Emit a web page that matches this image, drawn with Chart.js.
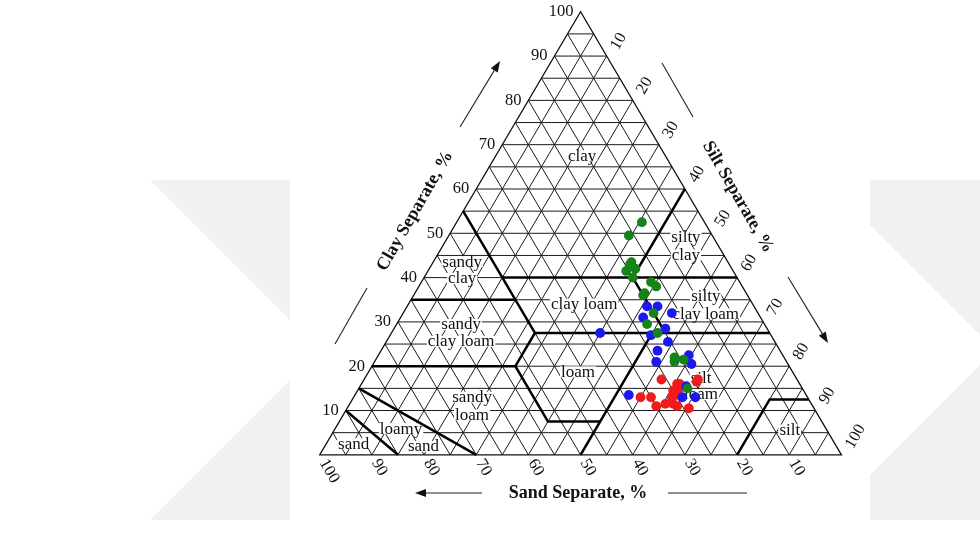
<!DOCTYPE html>
<html>
<head>
<meta charset="utf-8">
<script src="https://cdn.jsdelivr.net/npm/chart.js@4.4.1/dist/chart.umd.min.js"></script>
<style>
  html, body { margin: 0; padding: 0; background: #ffffff; }
  canvas { display: block; }
</style>
</head>
<body>
<canvas id="soil" width="980" height="556"></canvas>
<script>
// Soil samples, % sand and % clay (silt is the remainder)
const greenSand = [12, 16, 19, 20.5, 20, 18.5, 18.5, 17, 16.5, 19.5, 20, 20, 22.5, 21.5, 21.5, 21, 19.5, 22];
const greenClay = [52.5, 49.5, 43, 41.5, 40, 42, 43.5, 39, 38, 36.5, 36, 32, 29.5, 27.5, 21, 22, 21.5, 15];
const blueSand  = [20.5, 18.5, 16.5, 22.5, 32.5, 19.5, 23, 20.5, 23.5, 25, 18, 18.5, 22, 34, 24, 21.5];
const blueClay  = [33.5, 33.5, 32, 31, 27.5, 28.5, 27, 25.5, 23.5, 21, 22.5, 20.5, 15.5, 13.5, 13, 13];
const redSand   = [26, 23.5, 19.5, 19, 25, 23.5, 32, 30, 26, 26.5, 30, 28, 26, 24, 25, 23];
const redClay   = [17, 16, 16.5, 17, 14.5, 15, 13, 13, 13, 11.5, 11, 11.5, 11, 10.5, 13.5, 16];

// Axis tick values (percent)
const tickValues = [10, 20, 30, 40, 50, 60, 70, 80, 90, 100];

// Texture class names, one entry per printed line
const classText = ['clay', 'sandy', 'clay', 'silty', 'clay', 'clay loam', 'silty', 'clay loam',
                   'sandy', 'clay loam', 'loam', 'silt', 'loam', 'sandy', 'loam', 'loamy', 'sand', 'sand', 'silt'];

// Where each class line sits, in plot units (x: silt + clay/2, y: clay)
const classPos = [[50.3, 67.4], [27.3, 43.5], [27.3, 39.7], [70.2, 49.0], [70.2, 45.0], [50.7, 33.9],
                  [74.0, 35.7], [74.0, 31.7], [27.1, 29.3], [27.1, 25.5], [49.5, 18.6], [73.1, 17.3],
                  [73.1, 13.5], [29.2, 12.9], [29.2, 8.9], [15.6, 5.8], [19.9, 1.8], [6.5, 2.4], [90.1, 5.5]];

// USDA texture class boundaries as (sand, silt, clay) polylines
const boundaries = [
  [[45, 0, 55], [45, 27.5, 27.5], [52.5, 27.5, 20], [52.5, 40, 7.5], [42.5, 50, 7.5]],
  [[65, 0, 35], [45, 20, 35]],
  [[45, 15, 40], [0, 60, 40]],
  [[0, 40, 60], [20, 40, 40], [20, 52.5, 27.5]],
  [[45, 27.5, 27.5], [0, 72.5, 27.5]],
  [[80, 0, 20], [52.5, 27.5, 20]],
  [[22.5, 50, 27.5], [50, 50, 0]],
  [[20, 80, 0], [7.5, 80, 12.5], [0, 87.5, 12.5]],
  [[85, 0, 15], [70, 30, 0]],
  [[90, 0, 10], [85, 15, 0]]
];

function toPoints(sand, clay) {
  return sand.map((s, i) => {
    const c = clay[i];
    const silt = 100 - s - c;
    return { x: silt + c / 2, y: c };
  });
}

const SERIF = '"Liberation Serif", "Times New Roman", serif';

const ternaryPlugin = {
  id: 'ternary',
  beforeDatasetsDraw(chart) {
    const ctx = chart.ctx;
    const xs = chart.scales.x, ys = chart.scales.y;
    const P = (sand, silt, clay) => [xs.getPixelForValue(silt + clay / 2), ys.getPixelForValue(clay)];

    ctx.save();
    // page background with pale chevrons, chart panel on top
    ctx.fillStyle = '#ffffff';
    ctx.fillRect(0, 0, chart.width, chart.height);
    ctx.fillStyle = '#f1f1f1';
    const chev = (pts) => { ctx.beginPath(); pts.forEach((p, i) => i ? ctx.lineTo(p[0], p[1]) : ctx.moveTo(p[0], p[1])); ctx.closePath(); ctx.fill(); };
    chev([[150, 180], [305, 180], [475, 350], [305, 520], [150, 520], [320, 350]]);
    chev([[825, 180], [980, 180], [1150, 350], [980, 520], [825, 520], [995, 350]]);
    ctx.fillStyle = '#ffffff';
    ctx.fillRect(290, 0, 580, 520);

    // 5 % lattice
    ctx.strokeStyle = '#1a1a1a';
    ctx.lineWidth = 1;
    ctx.beginPath();
    for (let k = 5; k < 100; k += 5) {
      let a = P(100 - k, 0, k), b = P(0, 100 - k, k);
      ctx.moveTo(a[0], a[1]); ctx.lineTo(b[0], b[1]);
      a = P(k, 100 - k, 0); b = P(k, 0, 100 - k);
      ctx.moveTo(a[0], a[1]); ctx.lineTo(b[0], b[1]);
      a = P(100 - k, k, 0); b = P(0, k, 100 - k);
      ctx.moveTo(a[0], a[1]); ctx.lineTo(b[0], b[1]);
    }
    ctx.stroke();

    // triangle outline
    const A = P(100, 0, 0), B = P(0, 100, 0), C = P(0, 0, 100);
    ctx.lineWidth = 1.3;
    ctx.strokeStyle = '#111';
    ctx.beginPath();
    ctx.moveTo(A[0], A[1]); ctx.lineTo(B[0], B[1]); ctx.lineTo(C[0], C[1]); ctx.closePath();
    ctx.stroke();

    // class label backgrounds
    ctx.font = '17px ' + SERIF;
    classText.forEach((t, i) => {
      const x = xs.getPixelForValue(classPos[i][0]);
      const y = ys.getPixelForValue(classPos[i][1]);
      const w = ctx.measureText(t).width;
      ctx.fillStyle = '#ffffff';
      ctx.fillRect(x - w / 2 - 1, y - 6, w + 2, 11);
    });

    // class boundaries
    ctx.strokeStyle = '#000';
    ctx.lineWidth = 2.5;
    ctx.lineJoin = 'miter';
    boundaries.forEach(line => {
      ctx.beginPath();
      line.forEach((v, i) => {
        const p = P(v[0], v[1], v[2]);
        i ? ctx.lineTo(p[0], p[1]) : ctx.moveTo(p[0], p[1]);
      });
      ctx.stroke();
    });

    // class labels
    ctx.fillStyle = '#111';
    ctx.textAlign = 'center';
    ctx.textBaseline = 'middle';
    classText.forEach((t, i) => {
      ctx.fillText(t, xs.getPixelForValue(classPos[i][0]), ys.getPixelForValue(classPos[i][1]));
    });

    // tick labels
    ctx.font = '16.5px ' + SERIF;
    const rot = (t, x, y, ang, dx, dy) => {
      ctx.save();
      ctx.translate(x, y);
      ctx.rotate(ang);
      ctx.textAlign = 'left';
      ctx.textBaseline = 'middle';
      ctx.fillText(t, dx, dy);
      ctx.restore();
    };
    tickValues.forEach(v => {
      // clay, left edge
      const c = P(100 - v, 0, v);
      ctx.textAlign = 'right';
      ctx.textBaseline = 'middle';
      ctx.fillText(String(v), c[0] - 7, c[1]);
      // sand, bottom edge
      const s = P(v, 100 - v, 0);
      rot(String(v), s[0], s[1], Math.PI / 3, 6.5, 0);
      // silt, right edge
      const si = P(0, v, 100 - v);
      rot(String(v), si[0], si[1], -Math.PI / 3, 10.5, 3);
    });

    // axis titles
    ctx.font = 'bold 18px ' + SERIF;
    ctx.textAlign = 'center';
    ctx.textBaseline = 'middle';
    ctx.fillText('Sand Separate, %', 578, 493);
    ctx.save(); ctx.translate(415, 211); ctx.rotate(-Math.PI / 3); ctx.fillText('Clay Separate, %', 0, 0); ctx.restore();
    ctx.save(); ctx.translate(738, 197); ctx.rotate(Math.PI / 3); ctx.fillText('Silt Separate, %', 0, 0); ctx.restore();

    // direction arrows and rules
    ctx.strokeStyle = '#222';
    ctx.fillStyle = '#111';
    ctx.lineWidth = 1.1;
    const seg = (x1, y1, x2, y2) => { ctx.beginPath(); ctx.moveTo(x1, y1); ctx.lineTo(x2, y2); ctx.stroke(); };
    const arrow = (x1, y1, x2, y2) => {
      const ang = Math.atan2(y2 - y1, x2 - x1);
      const L = 11, W = 4;
      const bx = x2 - L * Math.cos(ang), by = y2 - L * Math.sin(ang);
      seg(x1, y1, bx, by);
      ctx.beginPath();
      ctx.moveTo(x2, y2);
      ctx.lineTo(bx - W * Math.sin(ang), by + W * Math.cos(ang));
      ctx.lineTo(bx + W * Math.sin(ang), by - W * Math.cos(ang));
      ctx.closePath();
      ctx.fill();
    };
    arrow(460, 127, 500, 61);
    seg(367, 288, 335, 344);
    seg(662, 63, 693, 117);
    arrow(788, 277, 828, 343);
    arrow(482, 493, 415, 493);
    seg(668, 493, 747, 493);
    ctx.restore();
  }
};

new Chart(document.getElementById('soil').getContext('2d'), {
  type: 'scatter',
  data: {
    datasets: [
      { label: 'green', data: toPoints(greenSand, greenClay), backgroundColor: '#17821a', pointRadius: 4.9, pointBorderWidth: 0 },
      { label: 'blue', data: toPoints(blueSand, blueClay), backgroundColor: '#1a1af0', pointRadius: 4.9, pointBorderWidth: 0 },
      { label: 'red', data: toPoints(redSand, redClay), backgroundColor: '#f01c1c', pointRadius: 4.9, pointBorderWidth: 0 }
    ]
  },
  options: {
    responsive: false,
    animation: false,
    devicePixelRatio: 1,
    layout: { padding: 0 },
    plugins: { legend: { display: false }, tooltip: { enabled: false } },
    scales: {
      x: { type: 'linear', min: -60.34, max: 125.62, display: false },
      y: { type: 'linear', min: -21.73, max: 101.55, display: false }
    }
  },
  plugins: [ternaryPlugin]
});
</script>
</body>
</html>
